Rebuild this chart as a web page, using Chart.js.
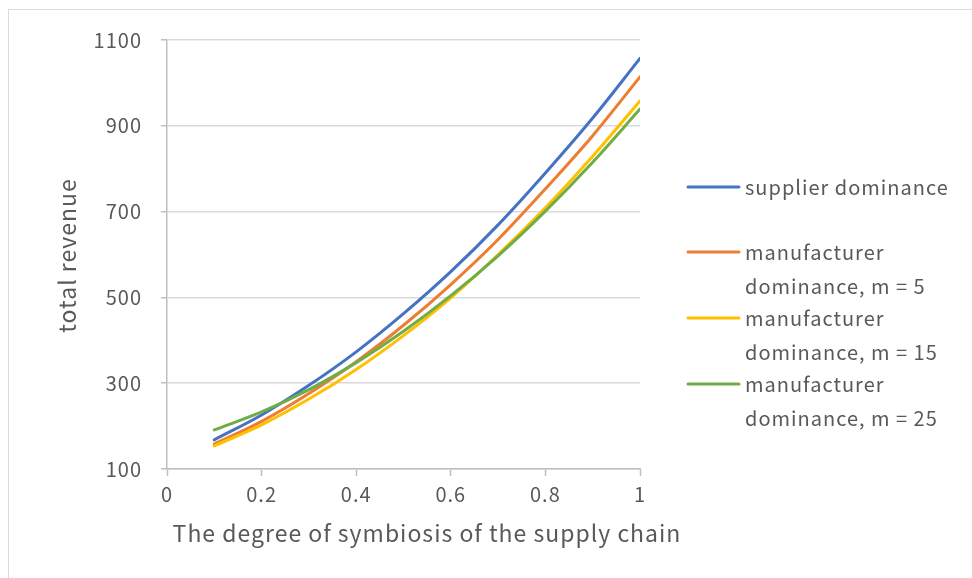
<!DOCTYPE html>
<html>
<head>
<meta charset="utf-8">
<script src="https://cdn.jsdelivr.net/npm/chart.js@4.4.0/dist/chart.umd.min.js"></script>
<style>
  html, body { margin: 0; padding: 0; background: #ffffff; }
  #wrap { position: relative; width: 972px; height: 578px; overflow: hidden; }
  #frame { position: absolute; left: 8px; top: 9px; width: 1000px; height: 620px;
           border: 1px solid #dcdcdc; box-sizing: border-box; }
  canvas { position: absolute; left: 0; top: 0; }
</style>
</head>
<body>
<div id="wrap">
  <div id="frame"></div>
  <canvas id="c" width="972" height="578"></canvas>
</div>
<script>
// Degree of symbiosis (x) and total revenue for each dominance structure
const symbiosis = [0.1, 0.2, 0.3, 0.4, 0.5, 0.6, 0.7, 0.8, 0.9, 1.0];
const supplierDominance = [168, 226, 295, 373, 462, 560, 669, 790, 918, 1057];
const manufacturerM5    = [158, 211, 276, 350, 435, 530, 635, 753, 877, 1014];
const manufacturerM15   = [154, 203, 263, 332, 411, 499, 600, 709, 829, 958];
const manufacturerM25   = [191, 233, 285, 348, 421, 504, 597, 701, 815, 939];

const seriesNames = [
  ['supplier dominance'],
  ['manufacturer', 'dominance, m = 5'],
  ['manufacturer', 'dominance, m = 15'],
  ['manufacturer', 'dominance, m = 25']
];
const seriesColors = ['#4472C4', '#ED7D31', '#FFC000', '#70AD47'];
const xTickLabels = ['0', '0.2', '0.4', '0.6', '0.8', '1'];
const xAxisTitle = 'The degree of symbiosis of the supply chain';
const yAxisTitle = 'total revenue';

const FONT = '"Noto Sans CJK SC", "Noto Sans", sans-serif';
const TEXT = '#595959';

const toPoints = vals => vals.map((v, i) => ({ x: symbiosis[i], y: v }));
const allSeries = [supplierDominance, manufacturerM5, manufacturerM15, manufacturerM25];

const datasets = allSeries.map((vals, i) => ({
  label: seriesNames[i].join(' '),
  data: toPoints(vals),
  borderColor: seriesColors[i],
  backgroundColor: seriesColors[i],
  borderWidth: 3,
  borderCapStyle: 'round',
  borderJoinStyle: 'round',
  pointRadius: 0,
  showLine: true,
  fill: false,
  cubicInterpolationMode: 'monotone',
  order: allSeries.length - 1 - i
}));

// Wider letter spacing for all text on the canvas
const spacing = {
  id: 'spacing',
  beforeDraw(chart) { chart.ctx.letterSpacing = '1px'; }
};

// Axis titles and the side legend
const decorations = {
  id: 'decorations',
  afterDraw(chart) {
    const ctx = chart.ctx;
    const area = chart.chartArea;
    ctx.save();
    ctx.letterSpacing = '1px';
    ctx.fillStyle = TEXT;
    ctx.textBaseline = 'middle';

    ctx.font = '23px ' + FONT;
    ctx.textAlign = 'center';
    ctx.fillText(xAxisTitle, 427, 533);

    ctx.save();
    ctx.translate(67, (area.top + area.bottom) / 2 + 1);
    ctx.rotate(-Math.PI / 2);
    ctx.fillText(yAxisTitle, 0, 0);
    ctx.restore();

    const entryY = [187, 252, 318, 384];
    ctx.font = '20px ' + FONT;
    ctx.textAlign = 'left';
    seriesNames.forEach((lines, i) => {
      const y = entryY[i];
      ctx.strokeStyle = seriesColors[i];
      ctx.lineWidth = 3;
      ctx.lineCap = 'round';
      ctx.beginPath();
      ctx.moveTo(688, y);
      ctx.lineTo(739, y);
      ctx.stroke();
      lines.forEach((t, k) => ctx.fillText(t, 745, y + k * 34));
    });
    ctx.restore();
  }
};

new Chart(document.getElementById('c'), {
  type: 'scatter',
  data: { datasets },
  options: {
    responsive: false,
    animation: false,
    layout: { padding: { left: 0, top: 40, right: 332, bottom: 0 } },
    plugins: { legend: { display: false }, tooltip: { enabled: false } },
    scales: {
      x: {
        type: 'linear',
        min: 0, max: 1,
        afterFit(scale) { scale.height = 109; },
        ticks: {
          stepSize: 0.2,
          color: TEXT,
          padding: 6,
          font: { family: FONT, size: 20 },
          callback: (v, i) => xTickLabels[i]
        },
        grid: { drawOnChartArea: false, tickLength: 7, tickColor: '#bfbfbf', tickWidth: 1.5 },
        border: { color: '#bfbfbf', width: 1.5 }
      },
      y: {
        min: 100, max: 1100,
        afterFit(scale) { scale.width = 167; },
        ticks: {
          stepSize: 200,
          color: TEXT,
          padding: 19,
          font: { family: FONT, size: 20 },
          callback: v => String(v)
        },
        grid: { color: '#d9d9d9', lineWidth: 1.5, tickLength: 6, tickColor: '#bfbfbf', tickWidth: 1.5 },
        border: { color: '#bfbfbf', width: 1.5 }
      }
    }
  },
  plugins: [spacing, decorations]
});
</script>
</body>
</html>
